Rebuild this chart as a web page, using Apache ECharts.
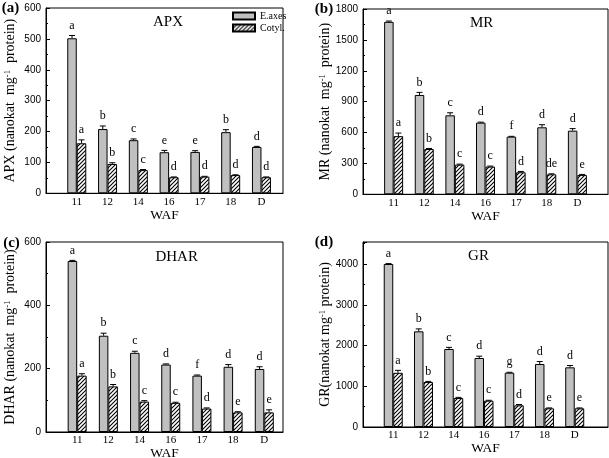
<!DOCTYPE html>
<html><head><meta charset="utf-8">
<script src="https://cdn.jsdelivr.net/npm/echarts@6/dist/echarts.min.js"></script>
<style>html,body{margin:0;padding:0;background:#fff}#c{width:609px;height:458px}</style>
</head><body><div id="c"></div>
<script>
const categories = ['11','12','14','16','17','18','D'];
const seriesNames = ['E.axes','Cotyl.'];
// APX
const apxAxes = [502,208,172,133,134,198,150];
const apxAxesErr = [9,10,4,6,4,8,2];
const apxAxesLetters = ['a','b','c','e','e','b','d'];
const apxCotyl = [162,95,75,52,54,59,52];
const apxCotylErr = [11,4,2,1,1,1,1];
const apxCotylLetters = ['a','b','c','d','d','d','d'];
const apxYTicks = [0,100,200,300,400,500,600];
// MR
const mrAxes = [1675,965,767,696,560,651,618];
const mrAxesErr = [8,25,25,5,3,25,20];
const mrAxesLetters = ['a','b','c','d','f','d','d'];
const mrCotyl = [565,440,288,269,214,194,188];
const mrCotylErr = [30,5,5,5,8,5,5];
const mrCotylLetters = ['a','b','c','c','d','de','e'];
const mrYTicks = [0,300,600,900,1200,1500,1800];
// DHAR
const dharAxes = [540,304,250,213,178,206,199];
const dharAxesErr = [2,8,5,2,2,7,7];
const dharAxesLetters = ['a','b','c','d','f','d','d'];
const dharCotyl = [178,144,96,92,74,62,62];
const dharCotylErr = [6,6,3,2,2,2,8];
const dharCotylLetters = ['a','b','c','c','d','e','e'];
const dharYTicks = [0,200,400,600];
// GR
const grAxes = [4000,2348,1914,1693,1333,1546,1464];
const grAxesErr = [10,60,40,45,10,60,45];
const grAxesLetters = ['a','b','c','d','g','d','d'];
const grCotyl = [1330,1104,712,646,532,458,458];
const grCotylErr = [60,15,15,10,20,10,10];
const grCotylLetters = ['a','b','c','c','d','e','e'];
const grYTicks = [0,1000,2000,3000,4000];

const SERIF = '"Liberation Serif", "Times New Roman", serif';
const SANS = '"Liberation Sans", Arial, sans-serif';
const BW = 9.5;

function makeHatch() {
  const s = 4;
  const c = document.createElement('canvas');
  c.width = s; c.height = s;
  const g = c.getContext('2d');
  g.fillStyle = '#fff'; g.fillRect(0, 0, s, s);
  g.strokeStyle = '#000'; g.lineWidth = 1.1;
  g.beginPath();
  g.moveTo(-1, s + 1); g.lineTo(s + 1, -1);
  g.moveTo(-1, 1); g.lineTo(1, -1);
  g.moveTo(s - 1, s + 1); g.lineTo(s + 1, s - 1);
  g.stroke();
  return c;
}
const hatch = { image: makeHatch(), repeat: 'repeat' };

const panels = [
  { label: '(a)', lx: 10.5, ly: 8.5, title: 'APX', tx: 168, ty: 22,
    yName: 'APX (nanokat  mg{sup|-1}  protein)', ticks: apxYTicks, yMax: 600, xMax: 7.7,
    grid: { left: 46, top: 8, width: 237, height: 185.3 },
    axes: apxAxes, axesErr: apxAxesErr, axesL: apxAxesLetters,
    cot: apxCotyl, cotErr: apxCotylErr, cotL: apxCotylLetters },
  { label: '(b)', lx: 324, ly: 9.5, title: 'MR', tx: 481.7, ty: 23,
    yName: 'MR (nanokat  mg{sup|-1}  protein)', ticks: mrYTicks, yMax: 1800, xMax: 8,
    grid: { left: 363, top: 9, width: 245, height: 185.3 },
    axes: mrAxes, axesErr: mrAxesErr, axesL: mrAxesLetters,
    cot: mrCotyl, cotErr: mrCotylErr, cotL: mrCotylLetters },
  { label: '(c)', lx: 11.5, ly: 243, title: 'DHAR', tx: 176.7, ty: 257,
    yName: 'DHAR (nanokat  mg{sup|-1}  protein)', ticks: dharYTicks, yMax: 600, xMax: 7.6,
    grid: { left: 46, top: 242, width: 237, height: 190 },
    axes: dharAxes, axesErr: dharAxesErr, axesL: dharAxesLetters,
    cot: dharCotyl, cotErr: dharCotylErr, cotL: dharCotylLetters },
  { label: '(d)', lx: 324, ly: 242, title: 'GR', tx: 478.5, ty: 256,
    yName: 'GR(nanokat mg{sup|-1} protein)', ticks: grYTicks, yMax: 4540, xMax: 8.1,
    grid: { left: 363, top: 242, width: 245, height: 185 },
    axes: grAxes, axesErr: grAxesErr, axesL: grAxesLetters,
    cot: grCotyl, cotErr: grCotylErr, cotL: grCotylLetters }
];

function errRender(letters, side) {
  return function (params, api) {
    const x = api.value(0), y = api.value(1), e = api.value(2);
    const base = api.coord([x, y]);
    const top = api.coord([x, y + e]);
    const cx = base[0] + side * BW / 2;
    const children = [];
    if (e > 0) {
      children.push({ type: 'line', shape: { x1: cx, y1: base[1], x2: cx, y2: top[1] },
        style: { stroke: '#000', lineWidth: 1 } });
      children.push({ type: 'line', shape: { x1: cx - 3, y1: top[1], x2: cx + 3, y2: top[1] },
        style: { stroke: '#000', lineWidth: 1 } });
    }
    children.push({ type: 'text', style: { text: letters[params.dataIndex], x: cx, y: top[1] - 10,
      align: 'center', verticalAlign: 'middle', font: '12px ' + SERIF, fill: '#000' } });
    return { type: 'group', children };
  };
}

const grids = [], xAxes = [], yAxes = [], series = [], graphics = [];
panels.forEach((p, i) => {
  grids.push(Object.assign({ show: true, borderColor: '#000', borderWidth: 1, containLabel: false, outerBoundsMode: 'none' }, p.grid));
  xAxes.push({
    gridIndex: i, type: 'value', min: 0, max: p.xMax, interval: 1,
    axisLine: { show: true, onZero: false, lineStyle: { color: '#000', width: 1 } },
    axisTick: { show: false }, splitLine: { show: false },
    axisLabel: { margin: 3, fontFamily: SERIF, fontSize: 11, color: '#000',
      showMinLabel: true, showMaxLabel: true,
      formatter: v => (Number.isInteger(v) && v >= 1 && v <= categories.length) ? categories[v - 1] : '' },
    name: 'WAF', nameLocation: 'middle', nameGap: 13,
    nameTextStyle: { fontFamily: SERIF, fontSize: 13.5, color: '#000' }
  });
  const ticks = p.ticks;
  yAxes.push({
    gridIndex: i, type: 'value', min: 0, max: p.yMax, interval: ticks[1] - ticks[0],
    axisLine: { show: true, onZero: false, lineStyle: { color: '#000', width: 1 } },
    axisTick: { show: true, inside: true, length: 4, lineStyle: { color: '#000' } },
    minorTick: { show: true, splitNumber: 2, length: 2, lineStyle: { color: '#000' } },
    splitLine: { show: false },
    axisLabel: { margin: 5, fontFamily: SANS, fontSize: 10, color: '#000',
      showMaxLabel: true,
      formatter: v => ticks.indexOf(v) >= 0 ? String(v) : '' },
    name: p.yName, nameLocation: 'middle', nameGap: 29,
    nameTextStyle: { fontFamily: SERIF, fontSize: 14, color: '#000',
      rich: { sup: { fontFamily: SERIF, fontSize: 8.5, color: '#000', verticalAlign: 'top' } } }
  });
  series.push({
    type: 'bar', name: seriesNames[0], xAxisIndex: i, yAxisIndex: i,
    data: p.axes.map((v, k) => [k + 1, v]), barWidth: BW, barGap: '0%',
    itemStyle: { color: '#c0c0c0', borderColor: '#000', borderWidth: 1 }, silent: true
  });
  series.push({
    type: 'bar', name: seriesNames[1], xAxisIndex: i, yAxisIndex: i,
    data: p.cot.map((v, k) => [k + 1, v]), barWidth: BW, barGap: '0%',
    itemStyle: { color: hatch, borderColor: '#000', borderWidth: 1 }, silent: true
  });
  series.push({
    type: 'custom', xAxisIndex: i, yAxisIndex: i, z: 5, clip: false, silent: true,
    encode: { x: 0, y: 1 },
    data: p.axes.map((v, k) => [k + 1, v, p.axesErr[k]]),
    renderItem: errRender(p.axesL, -1)
  });
  series.push({
    type: 'custom', xAxisIndex: i, yAxisIndex: i, z: 5, clip: false, silent: true,
    encode: { x: 0, y: 1 },
    data: p.cot.map((v, k) => [k + 1, v, p.cotErr[k]]),
    renderItem: errRender(p.cotL, 1)
  });
  graphics.push({ type: 'text', x: p.lx, y: p.ly,
    style: { text: p.label, font: 'bold 15px ' + SERIF, fill: '#000', align: 'center', verticalAlign: 'middle' } });
  graphics.push({ type: 'text', x: p.tx, y: p.ty,
    style: { text: p.title, font: '15px ' + SERIF, fill: '#000', align: 'center', verticalAlign: 'middle' } });
});

const chart = echarts.init(document.getElementById('c'), null, { renderer: 'canvas' });
chart.setOption({
  animation: false,
  backgroundColor: '#fff',
  grid: grids, xAxis: xAxes, yAxis: yAxes, series: series,
  legend: {
    data: seriesNames, orient: 'vertical', left: 232, top: 11,
    itemWidth: 22, itemHeight: 7, itemGap: 2, padding: 0,
    icon: 'rect', selectedMode: false,
    textStyle: { fontFamily: SERIF, fontSize: 10, color: '#000' }
  },
  graphic: graphics
});
</script>
</body></html>
